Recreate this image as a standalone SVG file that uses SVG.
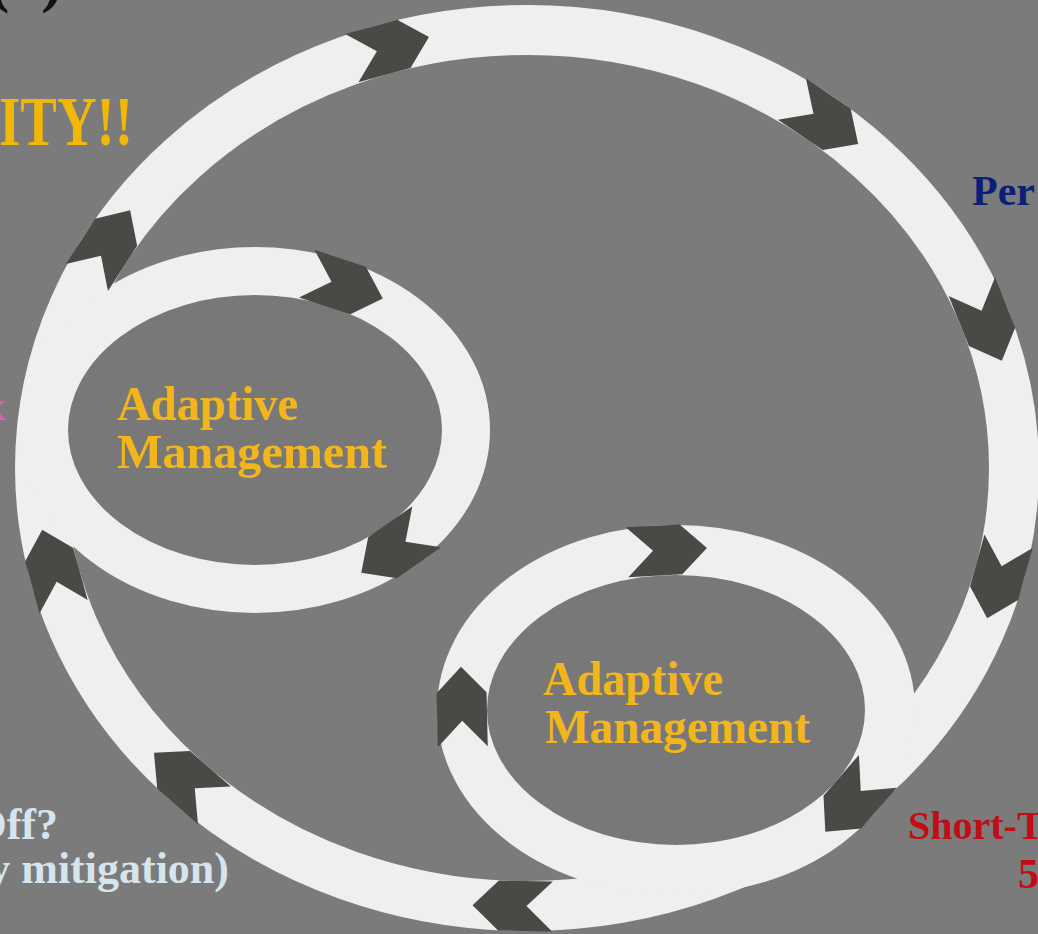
<svg xmlns="http://www.w3.org/2000/svg" xmlns:xlink="http://www.w3.org/1999/xlink" width="1038" height="934" viewBox="0 0 1038 934">
  <style>
    .band { fill: none; stroke: #efefef; }
    .core { fill: #787878; stroke: #efefef; }
    .chev { fill: #484b45; }
    .lbl { font-family: "Liberation Serif", "Times New Roman", serif; font-weight: bold; }
    .gold { fill: #f2b61c; font-size: 48px; }
  </style>
  <defs>
    <!-- chevron segment laid along a band 50 wide, pointing +x -->
    <polygon id="chev" points="-34,-25 20,-25 46,0 20,25 -34,25 -8,0"/>
  </defs>

  <rect x="0" y="0" width="1038" height="934" fill="#7b7b7b"/>

  <!-- partially visible heading and side labels -->
  <text class="lbl" x="-12" y="0" font-size="64" fill="#111111">(2)</text>
  <text class="lbl" x="-1" y="145" font-size="70" fill="#f2b705" textLength="134" lengthAdjust="spacingAndGlyphs">ITY!!</text>
  <text class="lbl" x="5" y="420" font-size="40" fill="#e05cc0" text-anchor="end">x</text>
  <text class="lbl" x="972" y="205" font-size="42" fill="#0b1f78">Per</text>
  <text class="lbl" x="58" y="839" font-size="44" fill="#d6e4ec" text-anchor="end">Off?</text>
  <text class="lbl" x="229" y="883" font-size="44" fill="#d6e4ec" text-anchor="end">y mitigation)</text>
  <text class="lbl" x="908" y="839" font-size="40" fill="#c00d16">Short-T</text>
  <text class="lbl" x="1018" y="888" font-size="42" fill="#c00d16">5</text>

  <!-- outer cycle -->
  <g id="cycle-outer">
    <ellipse class="band" cx="527" cy="468" rx="487" ry="438" stroke-width="50"/>
  </g>

  <!-- upper-left adaptive management loop -->
  <g id="cycle-upper">
    <ellipse class="core" cx="255" cy="430" rx="211" ry="159" stroke-width="48"/>
    <text class="lbl gold" x="117" y="420" textLength="181" lengthAdjust="spacingAndGlyphs">Adaptive</text>
    <text class="lbl gold" x="117" y="468" textLength="270" lengthAdjust="spacingAndGlyphs">Management</text>
  </g>

  <!-- lower-right adaptive management loop -->
  <g id="cycle-lower">
    <ellipse class="core" cx="676" cy="710" rx="214" ry="160" stroke-width="50"/>
    <text class="lbl gold" x="543" y="695" textLength="180" lengthAdjust="spacingAndGlyphs">Adaptive</text>
    <text class="lbl gold" x="545" y="743" textLength="265" lengthAdjust="spacingAndGlyphs">Management</text>
  </g>

  <!-- clockwise flow chevrons -->
  <g id="connectors" class="chev">
    <use xlink:href="#chev" transform="translate(384.6,49.1) rotate(-15.4)"/>
    <use xlink:href="#chev" transform="translate(820.1,118.2) rotate(34.1)"/>
    <use xlink:href="#chev" transform="translate(984.6,318.2) rotate(68)"/>
    <use xlink:href="#chev" transform="translate(999.5,574) rotate(105.5)"/>
    <use xlink:href="#chev" transform="translate(518.5,905.9) rotate(180.9)"/>
    <use xlink:href="#chev" transform="translate(188.7,783) rotate(-139)"/>
    <use xlink:href="#chev" transform="translate(54.5,574) rotate(-105.5)"/>
    <use xlink:href="#chev" transform="translate(105.3,249) rotate(-57.3)"/>

    <use xlink:href="#chev" transform="translate(339.1,284.2) rotate(18.1)"/>
    <use xlink:href="#chev" transform="translate(398.9,546.3) rotate(144.9)"/>

    <use xlink:href="#chev" transform="translate(661,550.4) rotate(-3)"/>
    <use xlink:href="#chev" transform="translate(462,712.8) rotate(-91.3)"/>
    <use xlink:href="#chev" transform="translate(855.5,797) rotate(131)"/>
  </g>
</svg>
